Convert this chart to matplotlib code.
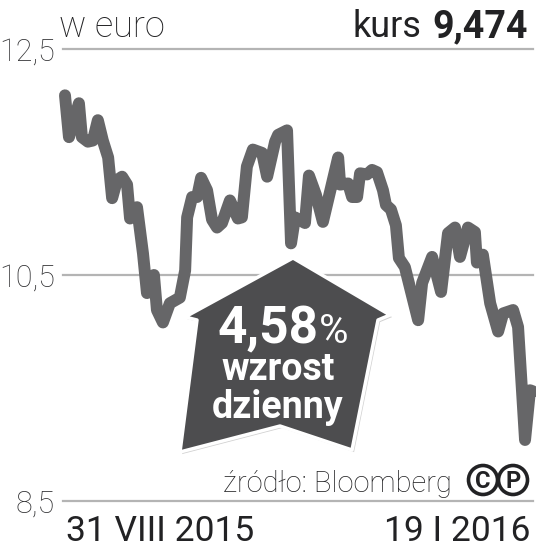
import matplotlib
matplotlib.use("Agg")
import matplotlib.pyplot as plt
import matplotlib.patheffects as pe
from matplotlib.patches import Polygon, Circle

days = [0,1.2,4.2,5.1,6.9,8.4,9.9,11.4,13,14.2,15.7,17.2,18.7,19.6,21.7,23.5,24.7,26.8,27.7,29.5,
        31.6,34.6,36.2,36.8,38.3,39.8,41,42.8,44.3,45.8,47.3,49.7,52.1,53.3,54.8,56.6,59.4,60.9,63.3,64.2,
        66.9,68.1,69.3,72.3,73.5,75.6,77.7,82.3,82.9,85.3,86.5,88,88.9,91,92.5,94,95.8,96.7,98.2,99.7,
        100.6,102.4,106.4,107.6,110.6,113.3,115.4,117.5,119,121.4,123.5,124.1,125.9,128.1,130.5,132,135,136.5,138.6,140.1,141]
kurs = [12.09,11.72,12.02,11.72,11.68,11.69,11.87,11.69,11.54,11.18,11.34,11.37,11.30,11.00,11.10,10.69,10.34,10.50,10.19,10.08,
        10.25,10.30,10.54,11.01,11.19,11.19,11.36,11.25,10.99,10.92,10.96,11.16,11.00,11.01,11.46,11.61,11.58,11.37,11.68,11.74,
        11.78,10.78,11.01,10.96,11.38,11.21,10.97,11.54,11.30,11.31,11.19,11.19,11.40,11.39,11.43,11.41,11.25,11.12,11.08,10.94,
        10.65,10.57,10.10,10.43,10.66,10.35,10.87,10.92,10.66,10.92,10.88,10.61,10.68,10.25,10.00,10.16,10.19,10.04,9.04,9.48,9.47]
y_ticks = [8.5, 10.5, 12.5]
y_labels = ["8,5", "10,5", "12,5"]
unit = "w euro"
kurs_label = "kurs"
kurs_value = "9,474"
start_label = "31 VIII 2015"
end_label = "19 I 2016"
badge_value = "4,58"
badge_lines = ["wzrost", "dzienny"]
source = "źródło: Bloomberg"

W, H = 536, 551
FONT = ["Roboto", "DejaVu Sans"]
DARK = "#222224"

fig = plt.figure(figsize=(W/100, H/100), dpi=100)
ax = fig.add_axes([63/W, 1-501/H, 470/W, 452/H])
ax.set_xlim(-0.6, 141)
ax.set_ylim(8.5, 12.5)
for s in ax.spines.values():
    s.set_visible(False)
ax.set_xticks([])
ax.set_yticks(y_ticks)
ax.set_yticklabels(y_labels, fontsize=22, family=FONT, fontweight="light", color="#333335")
ax.tick_params(axis="y", length=0, pad=6)
ax.grid(axis="y", color="#b4b4b4", lw=1.6)
for gl in ax.get_ygridlines():
    gl.set_clip_on(False)
ax.set_axisbelow(True)
ax.plot(days, kurs, color="#666668", lw=8.6, solid_joinstyle="round", solid_capstyle="round", clip_on=False, zorder=3)

def P(x, y):
    return (x/W, 1-y/H)

def T(x, y, s, **kw):
    return fig.text(x/W, 1-y/H, s, zorder=10, family=FONT, **kw)

T(59, 37, unit, fontsize=26, fontweight="light", color=DARK, ha="left", va="baseline")
T(421, 37, kurs_label, fontsize=26, color=DARK, ha="right", va="baseline")
T(528, 37, kurs_value, fontsize=27, fontweight="bold", color=DARK, ha="right", va="baseline")
T(66, 541, start_label, fontsize=25.5, color=DARK, ha="left", va="baseline")
T(531, 541, end_label, fontsize=25.5, color=DARK, ha="right", va="baseline")
T(452, 492, source, fontsize=21, fontweight="light", color=DARK, ha="right", va="baseline")

# badge
pts = [(293,258),(390,315),(378,320),(352,450),(280,426),(180,452),(197,320),(185,317)]
badge = Polygon([P(*p) for p in pts], closed=True, transform=fig.transFigure, facecolor="#4d4d4f",
                edgecolor="white", lw=2.5, joinstyle="round", zorder=5,
                path_effects=[pe.SimplePatchShadow(offset=(1.5,-1.5), shadow_rgbFace="#999999", alpha=0.45), pe.Normal()])
fig.add_artist(badge)
T(319, 343, badge_value, fontsize=37, fontweight="bold", color="white", ha="right", va="baseline")
T(319, 343, "%", fontsize=29, color="white", ha="left", va="baseline")
T(278, 380, badge_lines[0], fontsize=27, fontweight="bold", color="white", ha="center", va="baseline")
T(278, 418, badge_lines[1], fontsize=27, fontweight="bold", color="white", ha="center", va="baseline")

# C and P marks
for cx, ch in [(483, "C"), (513, "P")]:
    fig.add_artist(Circle((cx/100, (H-480)/100), 14.5/100, transform=fig.dpi_scale_trans,
                          facecolor="none", edgecolor=DARK, lw=2.6))
    T(cx, 481, ch, fontsize=17, fontweight="bold", color=DARK, ha="center", va="center")

fig.savefig("out.png", dpi=100)
